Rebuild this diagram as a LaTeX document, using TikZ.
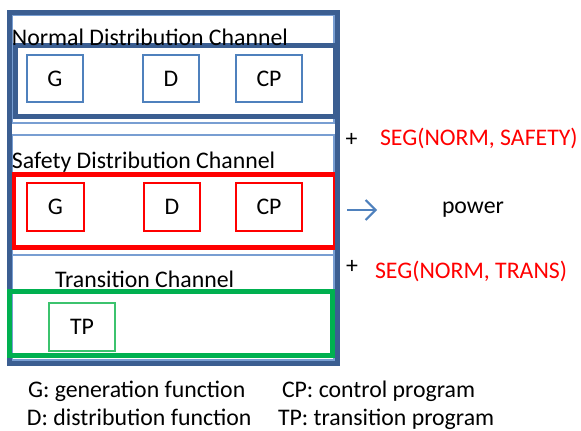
\documentclass[tikz,border=0pt]{standalone}
\usepackage{fontspec}
\setmainfont{Carlito}
\usetikzlibrary{arrows.meta}
\definecolor{frameblue}{RGB}{59,94,145}
\definecolor{boxblue}{RGB}{79,129,189}
\definecolor{lineblue}{RGB}{120,158,210}
\definecolor{myred}{RGB}{255,0,0}
\definecolor{mygreen}{RGB}{0,176,80}
\definecolor{tpgreen}{RGB}{60,195,110}
\begin{document}
\begin{tikzpicture}[x=1pt,y=-1pt,
  every node/.style={font=\fontsize{23.8}{28}\selectfont, inner sep=0pt, outer sep=0pt},
  band/.style={draw=lineblue, line width=1.1pt, rectangle},
  thickbox/.style={line width=5pt, rectangle},
  fnbox/.style={draw=boxblue, line width=1.5pt, rectangle},
  redbox/.style={draw=myred, line width=1.5pt, rectangle},
  tpbox/.style={draw=tpgreen, line width=1.5pt, rectangle},
  lbl/.style={anchor=base west}
]
\fill[white] (0,0) rectangle (581,431);
\useasboundingbox (0,0) rectangle (581,431);

% channel bands
\node[band, minimum width=322pt, minimum height=108pt] (band1) at (173,69) {};
\node[band, minimum width=322pt, minimum height=120pt] (band2) at (173,195) {};
\node[band, minimum width=322pt, minimum height=105pt] (band3) at (173,307.5) {};

% thick channel boxes
\node[thickbox, draw=frameblue, minimum width=320pt, minimum height=71pt] (normal) at (175,80.5) {};
\node[thickbox, draw=myred, minimum width=321.5pt, minimum height=73pt] (safety) at (174.25,211) {};

% outer frame
\node[thickbox, draw=frameblue, minimum width=327.5pt, minimum height=350.5pt] (outer) at (173.25,187.75) {};

\node[thickbox, draw=mygreen, minimum width=323pt, minimum height=64pt] (trans) at (171,323.5) {};

% inner boxes
\node[fnbox, minimum width=56pt, minimum height=47pt] (nG) at (55,78.5) {G};
\node[fnbox, minimum width=56pt, minimum height=47pt] (nD) at (171,78.5) {D};
\node[fnbox, minimum width=66pt, minimum height=47pt] (nCP) at (269,78.5) {CP};

\node[redbox, minimum width=57pt, minimum height=48pt] (sG) at (55.5,207) {G};
\node[redbox, minimum width=56pt, minimum height=48pt] (sD) at (172,207) {D};
\node[redbox, minimum width=66pt, minimum height=48pt] (sCP) at (269,207) {CP};

\node[tpbox, minimum width=66pt, minimum height=48pt] (tTP) at (82,327) {TP};

% channel titles
\node[lbl] (tN) at (12,45) {Normal Distribution Channel};
\node[lbl] (tS) at (12,168) {Safety Distribution Channel};
\node[lbl] (tT) at (55,287) {Transition Channel};

% right side
\node (plus1) at (351.5,140) {+};
\node[lbl, text=myred] (seg1) at (380,145) {SEG(NORM, SAFETY)};
\node (plus2) at (352,267) {+};
\node[lbl, text=myred] (seg2) at (375,278) {SEG(NORM, TRANS)};
\coordinate (a1) at (347,210);
\coordinate (a2) at (377,210);
\draw[boxblue, line width=2pt, -{Straight Barb[length=10pt,width=20pt]}] (a1) -- (a2);
\node[lbl] (pw) at (442,213) {power};

% legend
\node[lbl] (lG) at (28,397) {G: generation function};
\node[lbl] (lCP) at (282,397) {CP: control program};
\node[lbl] (lD) at (27,425) {D: distribution function};
\node[lbl] (lTP) at (278,425) {TP: transition program};
\end{tikzpicture}
\end{document}
